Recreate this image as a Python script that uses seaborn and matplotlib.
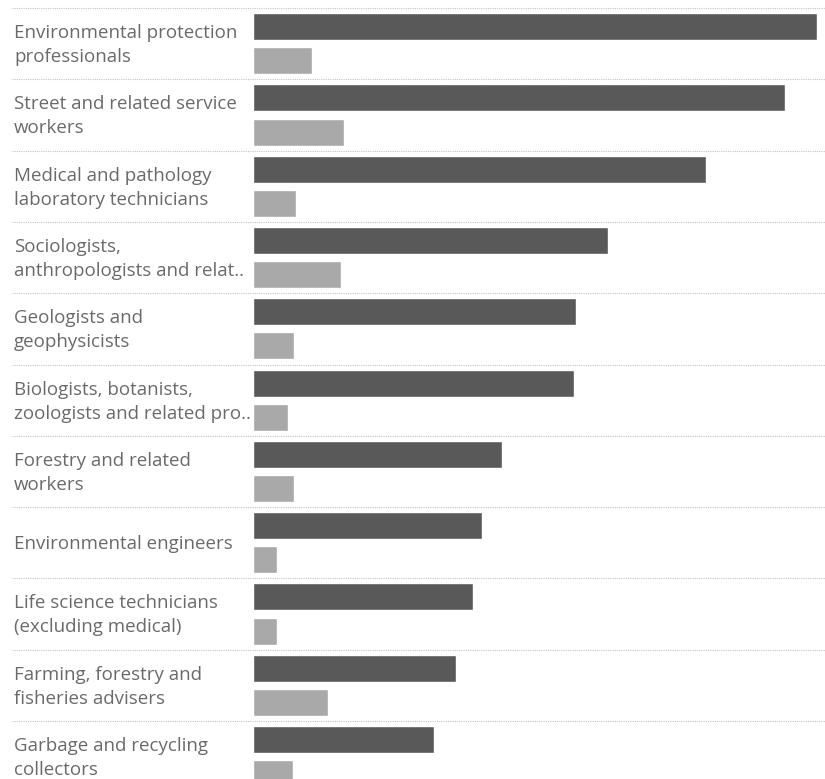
import matplotlib
matplotlib.use("Agg")
import matplotlib.pyplot as plt
import matplotlib.transforms as mtransforms
import seaborn as sns
import pandas as pd

# ==============================
# DATA
# ==============================

occupations = [
    "Environmental protection\nprofessionals",
    "Street and related service\nworkers",
    "Medical and pathology\nlaboratory technicians",
    "Sociologists,\nanthropologists and relat..",
    "Geologists and\ngeophysicists",
    "Biologists, botanists,\nzoologists and related pro..",
    "Forestry and related\nworkers",
    "Environmental engineers",
    "Life science technicians\n(excluding medical)",
    "Farming, forestry and\nfisheries advisers",
    "Garbage and recycling\ncollectors",
]

series_a = [564, 532, 453, 355, 323, 321, 249, 229, 220, 203, 181]
series_b = [59, 91, 43, 88, 41, 35, 41, 24, 24, 75, 40]

series_names = ["A", "B"]
colors = ["#595959", "#a9a9a9"]

df = pd.DataFrame({
    "occupation": occupations * 2,
    "value": series_a + series_b,
    "series": [series_names[0]] * len(occupations) + [series_names[1]] * len(occupations),
})

# ==============================
# FIGURE
# ==============================

sns.set_style("white")
plt.rcParams["font.family"] = ["Open Sans", "DejaVu Sans"]

W, H = 825, 779
fig = plt.figure(figsize=(W / 100, H / 100), dpi=100)

group_px = 71.3
top_px = 8
x0_px = 253
ax = fig.add_axes([
    x0_px / W,
    1 - (top_px + group_px * len(occupations)) / H,
    1 - x0_px / W,
    group_px * len(occupations) / H,
])

sns.barplot(
    data=df, y="occupation", x="value", hue="series",
    hue_order=series_names, palette=colors,
    orient="h", width=0.96, gap=0.21, dodge=True,
    saturation=1, legend=False, ax=ax,
)

ax.set_xlim(0, W - x0_px)
ax.set_ylim(len(occupations) - 0.5, -0.5)
ax.set_xlabel("")
ax.set_ylabel("")
ax.set_xticks([])
ax.set_yticks([])
sns.despine(ax=ax, left=True, bottom=True)

# labels + dotted separators spanning the label column
blend = mtransforms.blended_transform_factory(fig.transFigure, ax.transData)
for i, name in enumerate(occupations):
    ax.text(14 / W, i + 0.02, name, transform=blend, ha="left", va="center",
            fontsize=13.5, color="#6a6a6a", linespacing=1.43)

for i in range(len(occupations) + 1):
    ax.plot([12 / W, 1], [i - 0.5, i - 0.5], transform=blend, clip_on=False,
            color="#c4c4c4", linewidth=0.8, linestyle=(0, (1, 1)), zorder=0)

fig.savefig("out.png", dpi=100)
